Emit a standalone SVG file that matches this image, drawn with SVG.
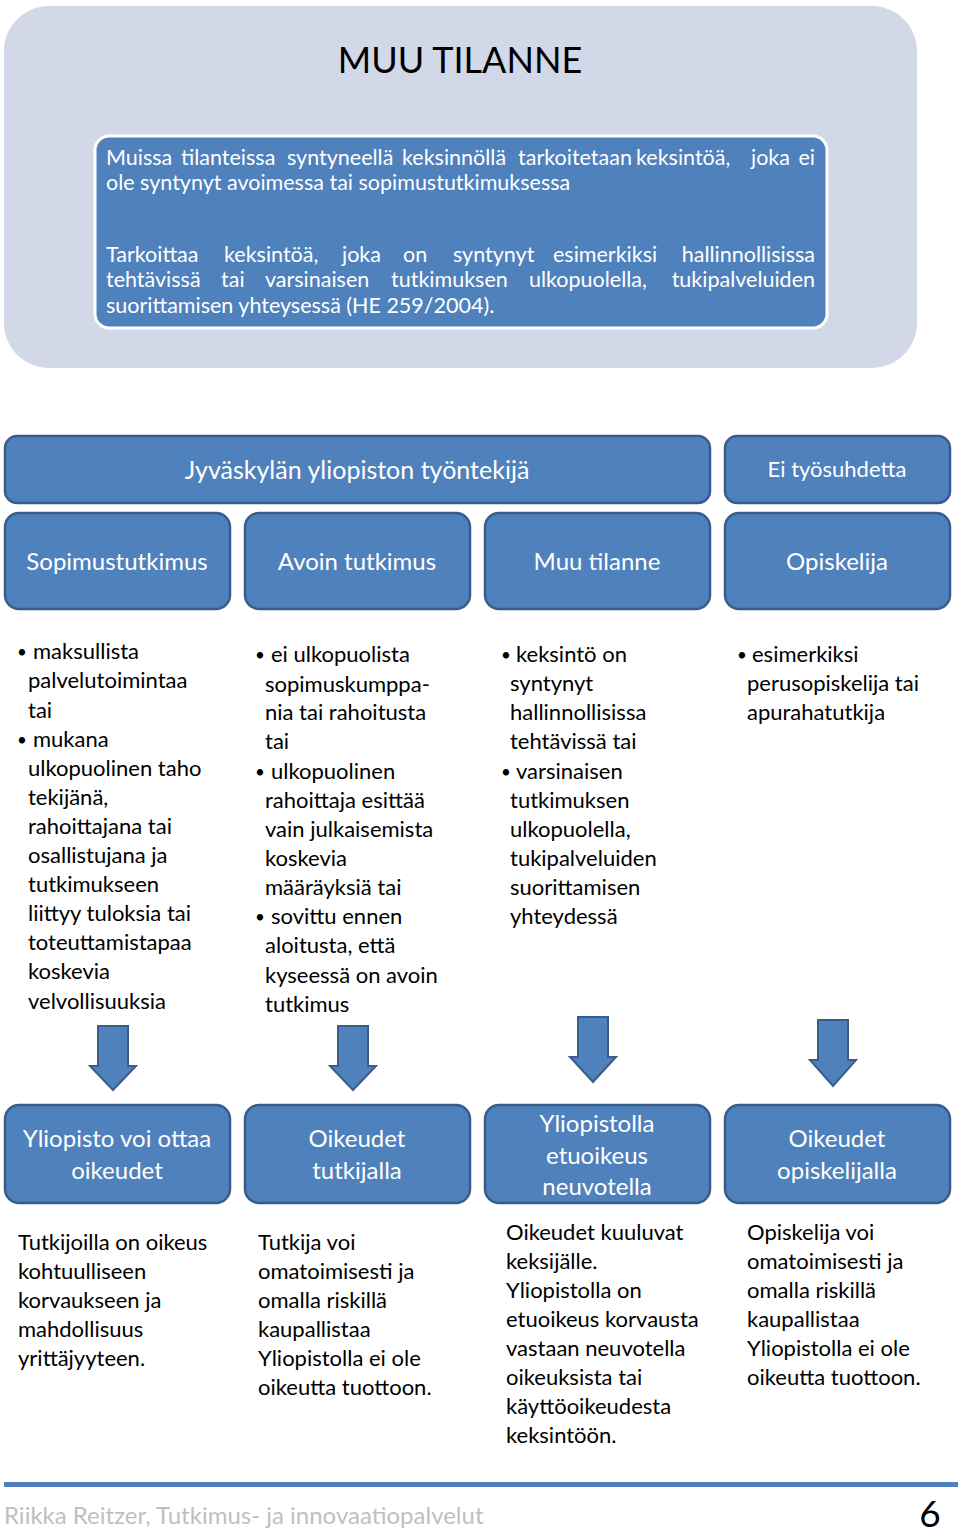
<svg xmlns="http://www.w3.org/2000/svg" width="960" height="1534" viewBox="0 0 960 1534">
<style>
text{font-family:Lato,"Open Sans","Noto Sans",sans-serif}
.box{fill:#4F81BD;stroke:#385D8A;stroke-width:2.5}
.hl{fill:#fff;font-size:24px;text-anchor:middle}
.b{fill:#000;font-size:22px}
.w{fill:#fff;font-size:21.5px}
.dot{font-size:17px}
.arr{fill:#4F81BD;stroke:#385D8A;stroke-width:2}
</style>
<rect width="960" height="1534" fill="#fff"/>
<g id="intro">
<rect x="4" y="6" width="913" height="362" rx="45" fill="#D3D8E8"/>
<text x="460" y="73" text-anchor="middle" style="font-size:36px;fill:#000">MUU TILANNE</text>
<rect x="95" y="136" width="732" height="192" rx="14" fill="#4F81BD" stroke="#fff" stroke-width="3"/>
<g class="w">
<text class="w" x="106" y="165">Muissa</text><text class="w" x="181" y="165">tilanteissa</text><text class="w" x="287" y="165">syntyneellä</text><text class="w" x="402" y="165">keksinnöllä</text><text class="w" x="518" y="165">tarkoitetaan</text><text class="w" x="636" y="165">keksintöä,</text><text class="w" x="751" y="165">joka</text><text class="w" x="815" y="165" text-anchor="end">ei</text>
<text class="w" x="106" y="190">ole syntynyt avoimessa tai sopimustutkimuksessa</text>
<text class="w" x="106" y="262">Tarkoittaa</text><text class="w" x="224" y="262">keksintöä,</text><text class="w" x="342" y="262">joka</text><text class="w" x="403" y="262">on</text><text class="w" x="453" y="262">syntynyt</text><text class="w" x="553" y="262">esimerkiksi</text><text class="w" x="815" y="262" text-anchor="end">hallinnollisissa</text>
<text class="w" x="106" y="287">tehtävissä</text><text class="w" x="221" y="287">tai</text><text class="w" x="265" y="287">varsinaisen</text><text class="w" x="391" y="287">tutkimuksen</text><text class="w" x="529" y="287">ulkopuolella,</text><text class="w" x="815" y="287" text-anchor="end">tukipalveluiden</text>
<text class="w" x="106" y="313">suorittamisen yhteysessä (HE 259/2004).</text>
</g>
</g>
<g id="h-employee"><rect class="box" x="5" y="436" width="705" height="67" rx="12"/><text class="hl" x="357" y="479" style="font-size:25px">Jyväskylän yliopiston työntekijä</text></g>
<g id="h-noemp"><rect class="box" x="725" y="436" width="225" height="67" rx="12"/><text class="hl" x="837" y="477" style="font-size:22px">Ei työsuhdetta</text></g>
<g id="c1"><rect class="box" x="5" y="513" width="225" height="96" rx="14"/><text class="hl" x="117" y="570">Sopimustutkimus</text></g>
<g id="c2"><rect class="box" x="245" y="513" width="225" height="96" rx="14"/><text class="hl" x="357" y="570">Avoin tutkimus</text></g>
<g id="c3"><rect class="box" x="485" y="513" width="225" height="96" rx="14"/><text class="hl" x="597" y="570">Muu tilanne</text></g>
<g id="c4"><rect class="box" x="725" y="513" width="225" height="96" rx="14"/><text class="hl" x="837" y="570">Opiskelija</text></g>
<g id="list1" class="b">
<text class="b dot" x="17" y="658">•</text><text class="b" x="33" y="659">maksullista</text>
<text class="b" x="28" y="688">palvelutoimintaa</text>
<text class="b" x="28" y="718">tai</text>
<text class="b dot" x="17" y="746">•</text><text class="b" x="33" y="747">mukana</text>
<text class="b" x="28" y="776">ulkopuolinen taho</text>
<text class="b" x="28" y="805">tekijänä,</text>
<text class="b" x="28" y="834">rahoittajana tai</text>
<text class="b" x="28" y="863">osallistujana ja</text>
<text class="b" x="28" y="892">tutkimukseen</text>
<text class="b" x="28" y="921">liittyy tuloksia tai</text>
<text class="b" x="28" y="950">toteuttamistapaa</text>
<text class="b" x="28" y="979">koskevia</text>
<text class="b" x="28" y="1009">velvollisuuksia</text>
</g>
<g id="list2" class="b">
<text class="b dot" x="255" y="661">•</text><text class="b" x="271" y="662">ei ulkopuolista</text>
<text class="b" x="265" y="692">sopimuskumppa-</text>
<text class="b" x="265" y="720">nia tai rahoitusta</text>
<text class="b" x="265" y="749">tai</text>
<text class="b dot" x="255" y="778">•</text><text class="b" x="271" y="779">ulkopuolinen</text>
<text class="b" x="265" y="808">rahoittaja esittää</text>
<text class="b" x="265" y="837">vain julkaisemista</text>
<text class="b" x="265" y="866">koskevia</text>
<text class="b" x="265" y="895">määräyksiä tai</text>
<text class="b dot" x="255" y="923">•</text><text class="b" x="271" y="924">sovittu ennen</text>
<text class="b" x="265" y="953">aloitusta, että</text>
<text class="b" x="265" y="983">kyseessä on avoin</text>
<text class="b" x="265" y="1012">tutkimus</text>
</g>
<g id="list3" class="b">
<text class="b dot" x="501" y="661">•</text><text class="b" x="516" y="662">keksintö on</text>
<text class="b" x="510" y="691">syntynyt</text>
<text class="b" x="510" y="720">hallinnollisissa</text>
<text class="b" x="510" y="749">tehtävissä tai</text>
<text class="b dot" x="501" y="778">•</text><text class="b" x="516" y="779">varsinaisen</text>
<text class="b" x="510" y="808">tutkimuksen</text>
<text class="b" x="510" y="837">ulkopuolella,</text>
<text class="b" x="510" y="866">tukipalveluiden</text>
<text class="b" x="510" y="895">suorittamisen</text>
<text class="b" x="510" y="924">yhteydessä</text>
</g>
<g id="list4" class="b">
<text class="b dot" x="737" y="661">•</text><text class="b" x="752" y="662">esimerkiksi</text>
<text class="b" x="747" y="691">perusopiskelija tai</text>
<text class="b" x="747" y="720">apurahatutkija</text>
</g>
<g id="connectors">
<path class="arr" d="M98,1026 H128 V1066 H136 L113,1090 L90,1066 H98 Z"/>
<path class="arr" d="M338,1026 H368 V1066 H376 L353,1090 L330,1066 H338 Z"/>
<path class="arr" d="M578,1017 H608 V1057 H616 L593,1082 L570,1057 H578 Z"/>
<path class="arr" d="M818,1020 H848 V1060 H856 L833,1086 L810,1060 H818 Z"/>
</g>
<g id="r1"><rect class="box" x="5" y="1105" width="225" height="98" rx="14"/><text class="hl" x="117" y="1147">Yliopisto voi ottaa</text><text class="hl" x="117" y="1179">oikeudet</text></g>
<g id="r2"><rect class="box" x="245" y="1105" width="225" height="98" rx="14"/><text class="hl" x="357" y="1147">Oikeudet</text><text class="hl" x="357" y="1179">tutkijalla</text></g>
<g id="r3"><rect class="box" x="485" y="1105" width="225" height="98" rx="14"/><text class="hl" x="597" y="1132">Yliopistolla</text><text class="hl" x="597" y="1164">etuoikeus</text><text class="hl" x="597" y="1195">neuvotella</text></g>
<g id="r4"><rect class="box" x="725" y="1105" width="225" height="98" rx="14"/><text class="hl" x="837" y="1147">Oikeudet</text><text class="hl" x="837" y="1179">opiskelijalla</text></g>
<g id="t1" class="b">
<text class="b" x="18" y="1250">Tutkijoilla on oikeus</text>
<text class="b" x="18" y="1279">kohtuulliseen</text>
<text class="b" x="18" y="1308">korvaukseen ja</text>
<text class="b" x="18" y="1337">mahdollisuus</text>
<text class="b" x="18" y="1366">yrittäjyyteen.</text>
</g>
<g id="t2" class="b">
<text class="b" x="258" y="1250">Tutkija voi</text>
<text class="b" x="258" y="1279">omatoimisesti ja</text>
<text class="b" x="258" y="1308">omalla riskillä</text>
<text class="b" x="258" y="1337">kaupallistaa</text>
<text class="b" x="258" y="1366">Yliopistolla ei ole</text>
<text class="b" x="258" y="1395">oikeutta tuottoon.</text>
</g>
<g id="t3" class="b">
<text class="b" x="506" y="1240">Oikeudet kuuluvat</text>
<text class="b" x="506" y="1269">keksijälle.</text>
<text class="b" x="506" y="1298">Yliopistolla on</text>
<text class="b" x="506" y="1327">etuoikeus korvausta</text>
<text class="b" x="506" y="1356">vastaan neuvotella</text>
<text class="b" x="506" y="1385">oikeuksista tai</text>
<text class="b" x="506" y="1414">käyttöoikeudesta</text>
<text class="b" x="506" y="1443">keksintöön.</text>
</g>
<g id="t4" class="b">
<text class="b" x="747" y="1240">Opiskelija voi</text>
<text class="b" x="747" y="1269">omatoimisesti ja</text>
<text class="b" x="747" y="1298">omalla riskillä</text>
<text class="b" x="747" y="1327">kaupallistaa</text>
<text class="b" x="747" y="1356">Yliopistolla ei ole</text>
<text class="b" x="747" y="1385">oikeutta tuottoon.</text>
</g>
<g id="footer">
<rect x="4" y="1482" width="954" height="5" fill="#4F81BD"/>
<text x="4" y="1524" style="font-size:24px;fill:#BFBFBF">Riikka Reitzer, Tutkimus- ja innovaatiopalvelut</text>
<text x="930" y="1527" text-anchor="middle" style="font-size:37px;fill:#000">6</text>
</g>
</svg>
